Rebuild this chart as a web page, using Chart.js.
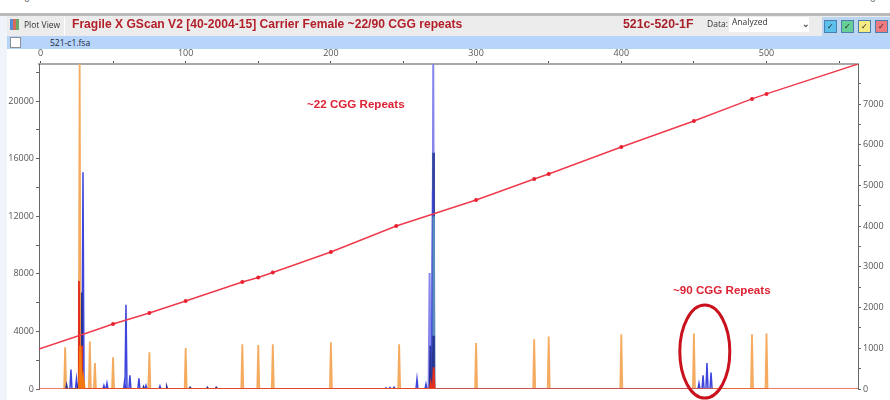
<!DOCTYPE html>
<html><head><meta charset="utf-8">
<script src="https://cdn.jsdelivr.net/npm/chart.js@4"></script>
<style>
html,body{margin:0;padding:0;background:#fff;width:890px;height:400px;overflow:hidden;font-family:"Open Sans","Liberation Sans",sans-serif}
#wrap{position:absolute;left:0;top:0;width:890px;height:400px;filter:blur(.55px);overflow:hidden}
#wrap div,#wrap span{position:absolute;white-space:nowrap}
canvas{position:absolute;left:0;top:0}
.btn{top:20px;width:13px;height:13px;border:1px solid #4a7fb0;box-sizing:border-box;font-size:8px;line-height:10px;text-align:center;color:#222}
</style></head><body>
<div id="wrap">
<div style="left:0;top:0;width:890px;height:13px;background:#fff;"></div>
<span style="left:24px;top:-9px;font-size:10px;color:#666">0</span>
<span style="left:870px;top:-9px;font-size:10px;color:#666">0</span>
<div style="left:0;top:13px;width:890px;height:3px;background:#b9b9b9"></div>
<div style="left:0;top:16px;width:7px;height:384px;background:#eef4fa"></div>
<div style="left:7px;top:16px;width:883px;height:20px;background:#ececec"></div>
<div style="left:7px;top:36px;width:883px;height:13px;background:#b7d5fb"></div>
<div style="left:10px;top:37px;width:9px;height:9px;background:#fff;border:1px solid #8a8f96"></div>
<span style="left:50px;top:36px;font-size:8.5px;line-height:13px;color:#223">521-c1.fsa</span>
<div style="left:10px;top:19px;width:9px;height:11px;background:linear-gradient(90deg,#5a8ad0 0 35%,#d86a5a 35% 65%,#6aa86a 65%)"></div>
<span style="left:24px;top:18px;font-size:8.5px;line-height:14px;color:#333">Plot View</span>
<div style="left:64px;top:17px;width:1px;height:18px;background:#fff"></div>
<span style="left:72px;top:16px;font-size:12.1px;line-height:17px;font-weight:600;color:#b3202a;font-family:'Liberation Sans',sans-serif">Fragile X GScan V2 [40-2004-15] Carrier Female ~22/90 CGG repeats</span>
<span style="left:623px;top:16px;font-size:12.3px;line-height:17px;font-weight:600;color:#a81f2a;font-family:'Liberation Sans',sans-serif">521c-520-1F</span>
<span style="left:707px;top:17px;font-size:8.5px;line-height:14px;color:#333">Data:</span>
<div style="left:729px;top:17px;width:80px;height:15px;background:#fff"></div>
<span style="left:732px;top:15px;font-size:8.5px;line-height:14px;color:#333">Analyzed</span>
<span style="left:802px;top:17px;font-size:9px;line-height:14px;color:#555;font-weight:700">&#8964;</span>
<div style="left:822px;top:17px;width:68px;height:19px;background:#bcd6f2"></div>
<div class="btn" style="left:824px;background:#5cc0ea">&#10003;</div>
<div class="btn" style="left:841px;background:#66cf98">&#10003;</div>
<div class="btn" style="left:858px;background:#f6ea82">&#10003;</div>
<div class="btn" style="left:875px;background:#ee7a80">&#10003;</div>
<canvas id="c" width="890" height="400"></canvas>
<span style="left:307px;top:97px;font-size:11.6px;line-height:14px;font-weight:700;color:#dd2233;font-family:'Liberation Sans',sans-serif">~22 CGG Repeats</span>
<span style="left:673px;top:283px;font-size:11.6px;line-height:14px;font-weight:700;color:#dd2233;font-family:'Liberation Sans',sans-serif">~90 CGG Repeats</span>
</div>
<script>
const xMin = -1, xMax = 563, yMax = 22570, rMax = 7985;
const xTicks = [0,50,100,150,200,250,300,350,400,450,500,550];
const yTicks = [0,2000,4000,6000,8000,10000,12000,14000,16000,18000,20000,22000];
const rTicks = [0,500,1000,1500,2000,2500,3000,3500,4000,4500,5000,5500,6000,6500,7000,7500];
const orangeX = [17,27,34,37.5,50,75,100,139,150,160,200,247,300,340,350,400,450,490,500];
const orangeY = [2900,22570,3300,1800,2200,2550,2850,3100,3050,3100,3250,3100,3200,3450,3650,3800,3850,3800,3850];
const blueX = [21,24.8,29.3,43.7,45.8,58,58.9,61.6,67.8,72.7,82.3,238,240.7,243.5,259.3,265.5,270.1,453.5,456.3,459,461.8];
const blueY = [1350,700,15050,250,400,600,5850,950,750,250,200,80,100,120,700,350,13800,400,950,1800,1150];
const lavenderX = [268,270.5];
const lavenderY = [8050,22570];
const darkTallX = [270.5];
const darkTallY = [16400];
const navyX = [18,26,28.5,71,87,103,115,121,268.5,270.5];
const navyY = [250,250,6700,150,150,100,100,100,3000,3700];
const steelX = [270.8];
const steelY = [12000];
const redX = [26.5,28,268.8,270.8];
const redY = [7500,3000,400,1500];
const deepOrangeX = [27.5,29.5];
const deepOrangeY = [3000,700];
const curveX = [-1,35,50,75,100,139,150,160,200,245,300,340,350,400,450,490,500,563];
const curveY = [983,1413,1597,1867,2162,2629,2740,2862,3366,4005,4644,5160,5282,5946,6585,7126,7249,7985];
const curveMarks = [2,3,4,5,6,7,8,9,10,11,12,13,14,15,16];
const baseX = [xMin, xMax];
const baseY = [0, 0];

function peaks(xs, ys, w){
  const out = [];
  xs.forEach((x,i)=>{ out.push({x:x-w,y:0},{x:x,y:ys[i]},{x:x+w,y:0}); });
  return out;
}
function lineSet(data,color,width,order,extra){
  return Object.assign({type:'line',data,borderColor:color,borderWidth:width,pointRadius:0,tension:0,order,yAxisID:'y',xAxisID:'x',parsing:false,normalized:true,spanGaps:false},extra||{});
}
const ellipsePlugin = {
  id:'ellipse',
  afterDatasetsDraw(chart){
    const {ctx,scales}=chart;
    ctx.save();
    ctx.beginPath();
    ctx.ellipse(scales.x.getPixelForValue(457.5),scales.y.getPixelForValue(2600),25,46.5,0,0,Math.PI*2);
    ctx.lineWidth=3; ctx.strokeStyle='#c9121e'; ctx.stroke();
    ctx.restore();
  }
};
const pin = (prop,v)=>function(s){ s[prop]=v; };
const fixTicks = vals=>function(s){ s.ticks = vals.map(v=>({value:v})); };
const tickFont = {size:9,family:'"Open Sans",sans-serif'};
new Chart(document.getElementById('c'),{
  data:{datasets:[
    lineSet(peaks(orangeX,orangeY,.7),'#f4ab60',1.8,9),
    lineSet(peaks(lavenderX,lavenderY,.7),'#8585ec',2,8),
    lineSet(peaks(darkTallX,darkTallY,.5),'#33479c',2,7.5),
    lineSet(peaks(blueX,blueY,.7),'#3d45dd',1.5,7),
    lineSet(peaks(steelX,steelY,.4),'#5b8cbc',2.4,6),
    lineSet(peaks(navyX,navyY,.5),'#26348f',1.7,5),
    lineSet(peaks(deepOrangeX,deepOrangeY,.8),'#f47a10',2.2,3),
    lineSet(peaks(redX,redY,.6),'#e2301c',1.9,4),
    lineSet(baseX.map((x,i)=>({x,y:baseY[i]})),'#e2522c',1.6,2),
    lineSet(curveX.map((x,i)=>({x,y:curveY[i]})),'#ee3a4c',1.4,1,{
      yAxisID:'y2',
      pointRadius:curveX.map((_,i)=>curveMarks.includes(i)?2:0),
      pointBackgroundColor:'#e8202f',pointBorderWidth:0})
  ]},
  options:{
    responsive:false,animation:false,
    layout:{padding:{bottom:11}},
    plugins:{legend:{display:false},tooltip:{enabled:false}},
    scales:{
      x:{type:'linear',position:'top',min:xMin,max:xMax,
        afterFit:pin('height',64),afterBuildTicks:fixTicks(xTicks),
        border:{color:'#a8a8a8',width:2},
        grid:{drawOnChartArea:false,tickLength:3,color:'#555',tickWidth:1},
        ticks:{maxRotation:0,autoSkip:false,padding:2,color:'#555',font:tickFont,
          callback:v=>v%100===0?String(v):''}},
      y:{type:'linear',position:'left',min:0,max:yMax,
        afterFit:pin('width',39),afterBuildTicks:fixTicks(yTicks),
        border:{color:'#666',width:1},
        grid:{drawOnChartArea:false,tickLength:3,color:'#666',tickWidth:1},
        ticks:{autoSkip:false,padding:2,color:'#555',font:tickFont,
          callback:v=>v%4000===0?String(v):''}},
      y2:{type:'linear',position:'right',min:0,max:rMax,
        afterFit:pin('width',32),afterBuildTicks:fixTicks(rTicks),
        border:{color:'#666',width:1},
        grid:{drawOnChartArea:false,tickLength:3,color:'#666',tickWidth:1},
        ticks:{autoSkip:false,padding:2,color:'#555',font:tickFont,
          callback:v=>v%1000===0?String(v):''}}
    }
  },
  plugins:[ellipsePlugin]
});
</script>
</body></html>
